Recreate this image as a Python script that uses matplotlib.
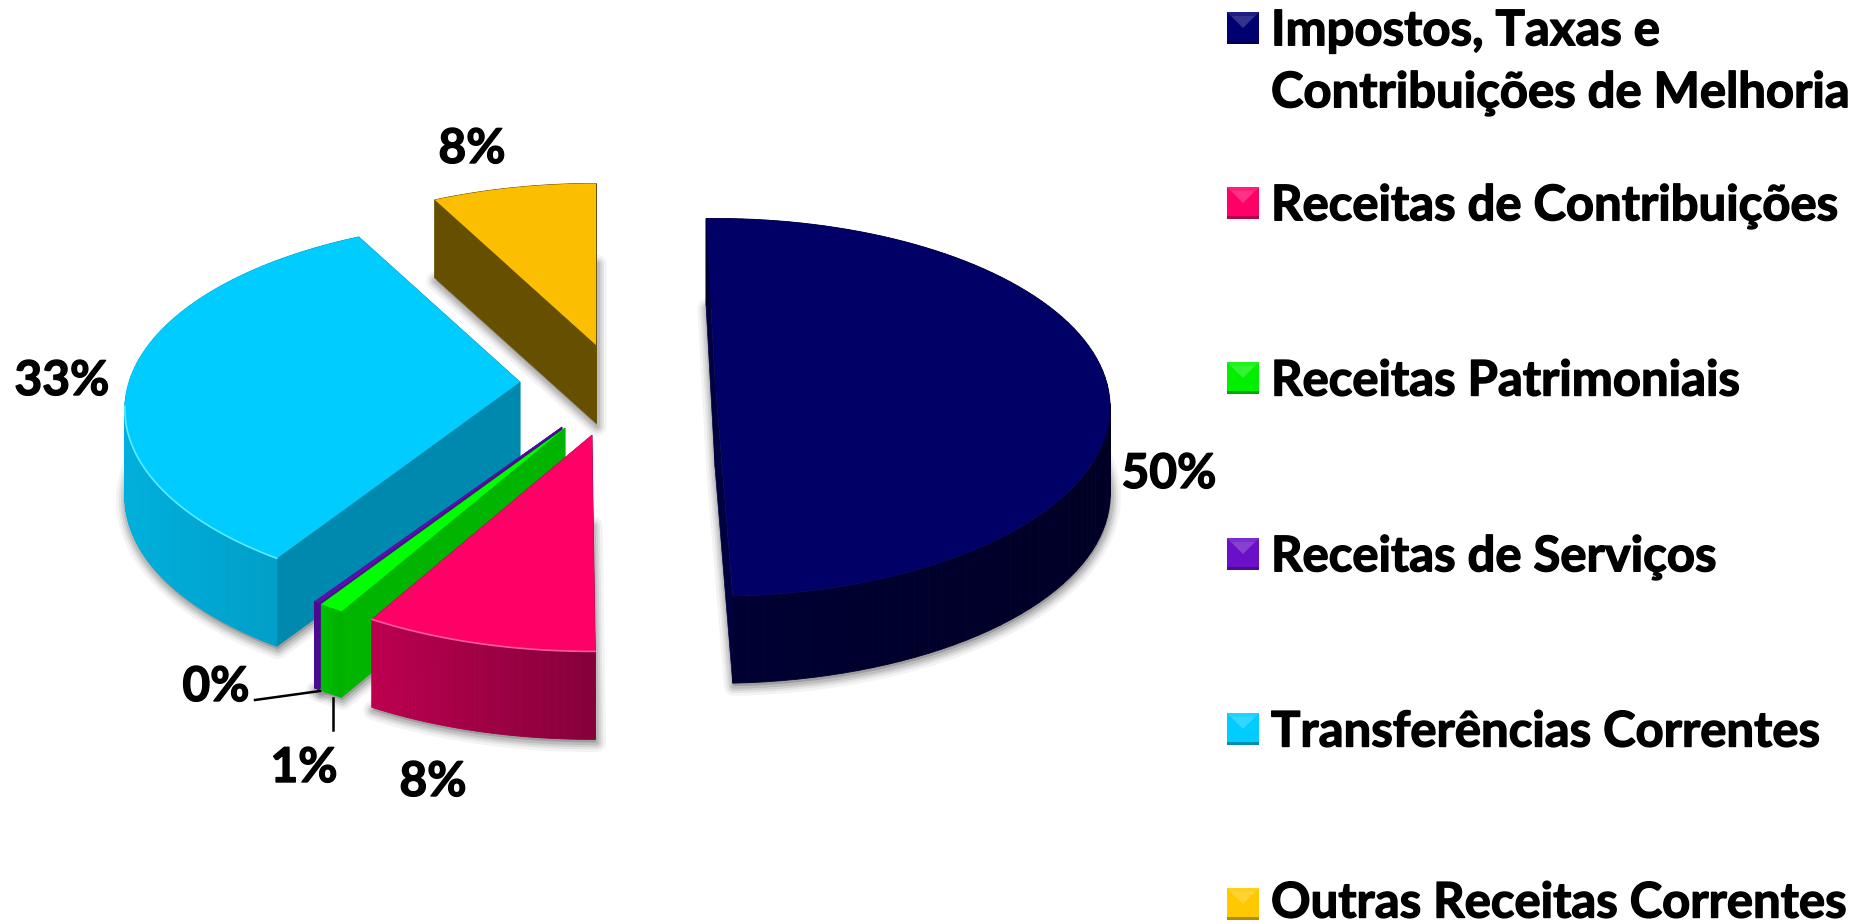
import numpy as np
import matplotlib
matplotlib.use("Agg")
import matplotlib.pyplot as plt
import matplotlib.patheffects as pe
from matplotlib.patches import Polygon
from matplotlib.transforms import Transform
from matplotlib.colors import to_rgb

categories = ["Impostos, Taxas e\nContribuições de Melhoria", "Receitas de Contribuições",
              "Receitas Patrimoniais", "Receitas de Serviços",
              "Transferências Correntes", "Outras Receitas Correntes"]
values = [49.8, 8.3, 0.9, 0.2, 33.1, 7.7]
top_colors = ["#000066", "#FF0066", "#00FF00", "#5A0FB0", "#00CCFF", "#FCBE00"]
key_colors = ["#000070", "#FF0066", "#00F000", "#6A10C8", "#00CCFF", "#FFC800"]
face_colors = ["#000040", "#A00045", "#00B400", "#4A0A90", "#0089AF", "#665000"]
wall_left = ["#000034", "#BC0050", "#00C000", "#4A0A90", "#00B0DC", "#665000"]
wall_right = ["#000026", "#85003A", "#00B000", "#4A0A90", "#0096BE", "#665000"]
rim_light = [None, "#FF5C9E", None, None, "#5CEBFF", None]

# layout, in pixels of the 1874x924 picture
apex = [(715, 380), (592, 435), (565, 428), (562, 427), (520, 382), (596, 345)]
depth = [87, 88, 86, 86, 88, 78]
turn = [1.5, -0.3, -0.8, -0.7, 0, 0]
RX, RY, PERSP = 391.0, 185.0, 0.145
order = [5, 0, 4, 3, 2, 1]
label_xy = [(1169, 474), (433, 782), (304, 768), (216, 687), (62, 381), (472, 149)]
key_y = [62, 206, 381, 557, 732, 903]
key_mark_y = [28, 203, 378, 554, 729, 904]
FONT = "Lato"
plt.rcParams["font.family"] = [FONT, "DejaVu Sans"]
THICK = [pe.withStroke(linewidth=1.0, foreground="black")]


class Tilt(Transform):
    """Seats a unit pie on the receding plane of the 3-D chart."""
    input_dims = output_dims = 2
    has_inverse = False
    is_separable = False

    def __init__(self, origin, rot):
        super().__init__()
        self.origin, self.rot = origin, np.radians(rot)

    def transform_non_affine(self, xy):
        xy = np.asarray(xy, float)
        c, s = np.cos(self.rot), np.sin(self.rot)
        u = c * xy[:, 0] - s * xy[:, 1]
        v = s * xy[:, 0] + c * xy[:, 1]
        w = 1 + PERSP * v
        return np.c_[self.origin[0] + RX * u / w, self.origin[1] - RY * v / w]


def mix(c, other, t):
    a, b = np.array(to_rgb(c)), np.array(to_rgb(other))
    return tuple(a * (1 - t) + b * t)


fig = plt.figure(figsize=(18.74, 9.24), dpi=100, facecolor="white")
ax = fig.add_axes([0, 0, 1, 1])
wedges, _ = ax.pie(values, startangle=90, counterclock=False, colors=top_colors,
                   wedgeprops=dict(linewidth=0))
ax.set_aspect("auto")
ax.set_xlim(0, 1874)
ax.set_ylim(924, 0)
ax.axis("off")


def rim(tilt, w):
    th = np.radians(np.linspace(w.theta1, w.theta2, 90))
    return tilt.transform(np.c_[np.cos(th), np.sin(th)])


# shadows under the slices
for i, w in enumerate(wedges):
    tilt = Tilt(apex[i], turn[i])
    pts = np.vstack([rim(tilt, w), apex[i]]) + [1, depth[i] + 3]
    for lw, al in [(14, .07), (10, .10), (7, .13), (4, .18)]:
        ax.add_patch(Polygon(pts, closed=True, facecolor="#808080", edgecolor="#606060",
                             linewidth=lw, alpha=al, joinstyle="round", zorder=0.5))

# solid slices, back to front
for rank, i in enumerate(order):
    w = wedges[i]
    z = 1 + rank
    tilt = Tilt(apex[i], turn[i])
    dz = np.array([0, depth[i]])
    pts = rim(tilt, w)
    org = np.array(apex[i], float)
    for edge in (pts[0], pts[-1]):
        ax.add_patch(Polygon([org, edge, edge + dz, org + dz], closed=True, facecolor=face_colors[i],
                             edgecolor=face_colors[i], linewidth=0.5, zorder=z))
    x0, x1 = pts[:, 0].min(), pts[:, 0].max()
    for a, b in zip(pts[:-1], pts[1:]):
        t = np.clip(((a[0] + b[0]) / 2 - x0) / max(x1 - x0, 1), 0, 1)
        col = mix(wall_left[i], wall_right[i], t)
        ax.add_patch(Polygon([a, b, b + dz, a + dz], closed=True, facecolor=col, edgecolor=col,
                             linewidth=0.6, zorder=z + .1))
    w.set_transform(tilt + ax.transData)
    w.set_clip_on(False)
    w.set_zorder(z + .2)
    if rim_light[i]:
        keep = (pts[:, 1] > org[1] + 20)
        ax.plot(pts[keep, 0], pts[keep, 1], color=rim_light[i], lw=1.2, zorder=z + .3,
                solid_capstyle="round")

# value labels and the two leader lines
for xy, v in zip(label_xy, values):
    ax.text(xy[0], xy[1], f"{v:.0f}%", fontsize=34.5, fontweight="bold", ha="center",
            va="center", color="black", zorder=20, path_effects=THICK)
ax.plot([255, 320], [700, 691], color="black", lw=1.8, zorder=20)
ax.plot([333, 333], [698, 730], color="black", lw=1.8, zorder=20)

# legend keys and entries
KX, KS = 1227, 32
for name, c, ym, yt in zip(categories, key_colors, key_mark_y, key_y):
    L, R, T, B = KX, KX + KS, ym - KS / 2, ym + KS / 2
    cx, cy = (L + R) / 2, (T + B) / 2
    ax.add_patch(Polygon([(L, T), (R, T), (R, B), (L, B)], facecolor=c, lw=0, zorder=21))
    ax.add_patch(Polygon([(L, T), (R, T), (cx, cy)], facecolor=mix(c, "white", .2), lw=0, zorder=21))
    ax.add_patch(Polygon([(L, T), (R, T), (R - 4, T + 4), (L + 4, T + 4)],
                         facecolor=mix(c, "white", .12), lw=0, zorder=22))
    ax.add_patch(Polygon([(L, B - 3), (R, B - 3), (R, B), (L, B)], facecolor=mix(c, "black", .3), lw=0, zorder=22))
    ax.text(1271, yt, name, fontsize=35.3, fontweight="bold", ha="left", va="center",
            linespacing=1.46, color="black", zorder=21, path_effects=THICK)

fig.savefig("out.png", dpi=100, facecolor="white")
